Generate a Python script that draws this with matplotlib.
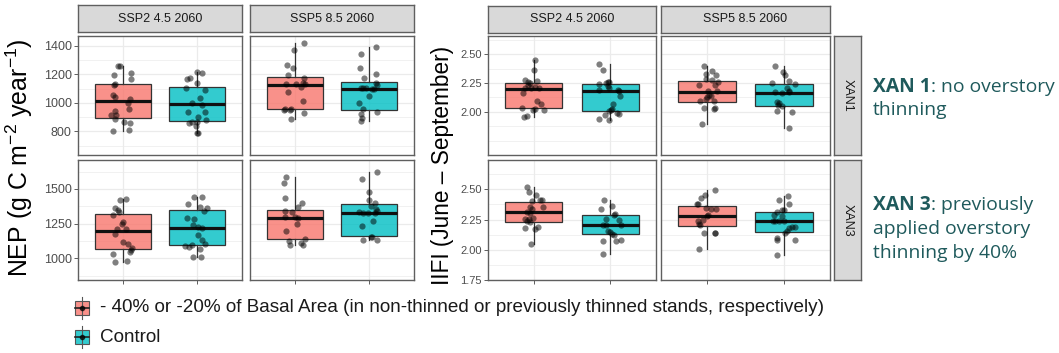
import matplotlib
matplotlib.use('Agg')
import matplotlib.pyplot as plt
import numpy as np
from matplotlib import font_manager as fm
from matplotlib.patches import Rectangle
from matplotlib.lines import Line2D

plt.rcParams['font.family'] = ['Liberation Sans', 'DejaVu Sans']
plt.rcParams['mathtext.fontset'] = 'custom'
plt.rcParams['mathtext.rm'] = 'Liberation Sans'
plt.rcParams['mathtext.it'] = 'Liberation Sans:italic'

# ---------------- data ----------------
scenarios = ['SSP2 4.5 2060', 'SSP5 8.5 2060']
sites = ['XAN1', 'XAN3']
treatments = ['- 40% or -20% of Basal Area (in non-thinned or previously thinned stands, respectively)',
              'Control']
fills = ['#F8766D', '#00BFC4']
ylab_nep = 'NEP (g C m$^{-2}$ year$^{-1}$)'
ylab_iifi = 'IIFI (June \u2013 September)'
note_xan1 = ('XAN 1', ': no overstory', 'thinning')
note_xan3 = ('XAN 3', ': previously', 'applied overstory', 'thinning by 40%')

# box stats: [whislo, q1, median, q3, whishi]
nep_x1_s2_thin_box = [801, 897, 1014, 1135, 1255]
nep_x1_s2_ctrl_box = [787, 871, 991, 1112, 1215]
nep_x1_s5_thin_box = [888, 960, 1124, 1180, 1421]
nep_x1_s5_ctrl_box = [872, 949, 1098, 1145, 1393]
nep_x3_s2_thin_box = [970, 1070, 1196, 1316, 1426]
nep_x3_s2_ctrl_box = [1009, 1096, 1216, 1345, 1445]
nep_x3_s5_thin_box = [1099, 1138, 1291, 1348, 1587]
nep_x3_s5_ctrl_box = [1131, 1160, 1326, 1389, 1623]
iifi_x1_s2_thin_box = [1.958, 2.034, 2.201, 2.254, 2.446]
iifi_x1_s2_ctrl_box = [1.932, 2.006, 2.184, 2.240, 2.418]
iifi_x1_s5_thin_box = [1.890, 2.082, 2.175, 2.266, 2.396]
iifi_x1_s5_ctrl_box = [1.859, 2.054, 2.161, 2.243, 2.396]
iifi_x3_s2_thin_box = [2.044, 2.226, 2.313, 2.397, 2.519]
iifi_x3_s2_ctrl_box = [1.962, 2.128, 2.204, 2.288, 2.408]
iifi_x3_s5_thin_box = [2.003, 2.198, 2.280, 2.361, 2.492]
iifi_x3_s5_ctrl_box = [1.954, 2.150, 2.236, 2.315, 2.448]

# individual points (values) and jitter offsets
nep_x1_s2_thin = [1255, 1255, 1192, 1206, 1168, 1129, 1124, 1056, 1042, 1028, 1002, 960, 944, 913, 913, 888, 869, 862, 813, 801]
nep_x1_s2_thin_jit = [-0.06, -0.03, -0.12, 0.11, 0.11, -0.11, -0.12, -0.13, -0.10, 0.10, 0.07, 0.09, -0.11, -0.16, -0.09, -0.10, 0.02, 0.10, 0.08, -0.13]
nep_x1_s2_ctrl = [1168, 1173, 1215, 1211, 1140, 1101, 1089, 1033, 1002, 988, 935, 935, 902, 883, 862, 869, 867, 836, 792, 787]
nep_x1_s2_ctrl_jit = [-0.135, -0.10, 0, 0.07, 0, -0.15, 0.10, 0.04, -0.07, 0.07, -0.12, 0.10, 0.01, 0.12, -0.11, -0.07, 0, -0.02, 0, 0.01]
nep_x1_s5_thin = [1421, 1370, 1264, 1241, 1194, 1173, 1129, 1133, 1140, 1129, 1110, 1077, 1012, 960, 960, 949, 949, 930, 888]
nep_x1_s5_thin_jit = [0.12, -0.01, -0.11, -0.02, -0.085, 0.12, -0.12, 0.02, 0.11, 0.135, 0.09, -0.085, 0.11, -0.135, -0.045, -0.06, -0.15, 0.12, -0.045]
nep_x1_s5_ctrl = [1393, 1344, 1241, 1204, 1173, 1136, 1126, 1103, 1103, 1103, 1094, 1098, 1047, 1000, 958, 925, 935, 895, 872]
nep_x1_s5_ctrl_jit = [0.09, -0.11, -0.12, 0.09, -0.07, 0.09, 0.10, -0.11, -0.08, -0.04, 0.03, 0.07, 0, -0.135, -0.08, -0.11, 0.11, -0.10, -0.11]
nep_x3_s2_thin = [1423, 1426, 1362, 1348, 1335, 1311, 1262, 1245, 1213, 1213, 1177, 1118, 1104, 1074, 1062, 1043, 1033, 977, 970]
nep_x3_s2_thin_jit = [-0.03, 0.04, -0.10, -0.06, -0.045, -0.135, 0.01, -0.01, -0.08, 0.05, -0.10, 0, 0.07, 0.12, 0.11, 0.10, -0.135, 0.06, -0.10]
nep_x3_s2_ctrl = [1445, 1445, 1389, 1367, 1362, 1338, 1291, 1282, 1238, 1226, 1221, 1165, 1135, 1104, 1089, 1084, 1094, 1070, 1009, 1009]
nep_x3_s2_ctrl_jit = [-0.04, 0.07, -0.12, 0.04, 0.135, 0.09, -0.14, -0.04, -0.06, 0.01, 0.07, 0.01, 0.07, 0.10, -0.16, -0.11, -0.07, 0.04, -0.06, 0.045]
nep_x3_s5_thin = [1587, 1543, 1435, 1396, 1367, 1343, 1335, 1299, 1299, 1289, 1245, 1196, 1123, 1099, 1140, 1111, 1099]
nep_x3_s5_thin_jit = [-0.12, -0.15, -0.13, 0.10, 0.04, -0.135, -0.03, -0.135, 0.01, 0.04, 0.03, -0.12, -0.08, -0.06, 0.135, 0.09, 0.11]
nep_x3_s5_ctrl = [1623, 1572, 1477, 1421, 1401, 1379, 1353, 1338, 1331, 1326, 1323, 1323, 1270, 1233, 1155, 1155, 1135, 1131]
nep_x3_s5_ctrl_jit = [0.11, -0.10, -0.01, -0.01, 0.08, 0.02, 0.09, 0.10, -0.14, -0.08, -0.02, 0.08, 0.05, -0.10, 0.02, 0.04, -0.08, 0.11]

iifi_x1_s2_thin = [2.446, 2.367, 2.277, 2.263, 2.254, 2.234, 2.271, 2.206, 2.206, 2.212, 2.206, 2.164, 2.090, 2.071, 2.037, 2.017, 2.028, 2.014, 1.966, 1.958]
iifi_x1_s2_thin_jit = [0.01, 0, -0.11, -0.075, -0.05, -0.08, 0.04, -0.12, -0.035, 0.01, 0.065, -0.14, 0.04, 0.10, -0.15, -0.01, 0.01, 0.13, -0.09, -0.13]
iifi_x1_s2_ctrl = [2.418, 2.367, 2.240, 2.249, 2.263, 2.257, 2.226, 2.192, 2.206, 2.186, 2.178, 2.133, 2.071, 2.020, 2.008, 2.017, 1.989, 1.980, 1.975, 1.935, 1.932]
iifi_x1_s2_ctrl_jit = [-0.145, -0.10, -0.145, -0.06, -0.035, -0.02, -0.035, -0.15, -0.02, 0.10, 0.11, 0.13, 0.04, 0.02, -0.02, 0.01, 0.09, 0.11, -0.07, -0.145, -0.02]
iifi_x1_s5_thin = [2.396, 2.353, 2.325, 2.319, 2.283, 2.277, 2.263, 2.229, 2.234, 2.178, 2.178, 2.150, 2.136, 2.127, 2.107, 2.093, 2.093, 2.031, 2.023, 2.031, 1.890]
iifi_x1_s5_thin_jit = [-0.045, 0.065, -0.01, 0.11, -0.02, 0.065, 0.145, -0.11, 0.10, 0.01, 0.13, 0.03, 0.05, 0, -0.02, -0.09, 0.09, 0.10, 0.09, -0.045, -0.065]
iifi_x1_s5_ctrl = [2.396, 2.342, 2.319, 2.271, 2.254, 2.243, 2.206, 2.169, 2.164, 2.184, 2.169, 2.085, 2.073, 2.059, 2.051, 2.008, 2.000, 1.859]
iifi_x1_s5_ctrl_jit = [-0.12, -0.01, 0.01, 0.065, -0.15, 0.14, 0.045, -0.12, -0.02, 0.06, 0.065, -0.09, -0.065, -0.075, -0.03, -0.09, 0.10, 0.065]
iifi_x3_s2_thin = [2.519, 2.478, 2.456, 2.402, 2.410, 2.408, 2.356, 2.356, 2.334, 2.313, 2.307, 2.258, 2.258, 2.261, 2.226, 2.234, 2.177, 2.171, 2.185, 2.044]
iifi_x3_s2_thin_jit = [-0.085, -0.065, 0.03, -0.025, 0.075, 0.105, 0.12, -0.055, -0.02, -0.09, -0.045, -0.12, -0.065, -0.01, -0.045, -0.09, -0.11, 0.01, 0.055, -0.035]
iifi_x3_s2_ctrl = [2.408, 2.361, 2.340, 2.293, 2.285, 2.253, 2.247, 2.207, 2.204, 2.204, 2.158, 2.144, 2.125, 2.128, 2.076, 2.073, 2.079, 1.962]
iifi_x3_s2_ctrl_jit = [-0.075, 0.03, -0.12, 0.06, 0.045, -0.05, 0.115, 0.14, -0.09, -0.05, -0.035, 0, 0.045, 0.02, -0.10, 0.075, 0.14, -0.09]
iifi_x3_s5_thin = [2.492, 2.451, 2.429, 2.380, 2.375, 2.348, 2.334, 2.334, 2.285, 2.280, 2.234, 2.217, 2.207, 2.139, 2.136, 2.139, 2.003, 2.247]
iifi_x3_s5_thin_jit = [0.10, -0.025, -0.08, -0.135, -0.12, -0.01, 0.05, 0.12, 0.01, 0, -0.12, -0.11, -0.09, 0.10, -0.045, 0.105, -0.10, -0.05]
iifi_x3_s5_ctrl = [2.448, 2.408, 2.375, 2.315, 2.329, 2.329, 2.285, 2.280, 2.234, 2.234, 2.234, 2.190, 2.190, 2.177, 2.158, 2.139, 2.095, 2.084, 2.084, 1.954, 2.234]
iifi_x3_s5_ctrl_jit = [0.055, -0.06, 0.065, -0.09, -0.02, 0, -0.13, -0.03, -0.12, -0.06, 0, 0.145, 0.10, 0.065, 0.035, 0.01, -0.09, -0.085, 0.145, -0.09, -0.14]

# y-axis breaks
nep_breaks = {'XAN1': [800, 1000, 1200, 1400], 'XAN3': [1000, 1250, 1500]}
nep_minor = {'XAN1': [700, 900, 1100, 1300], 'XAN3': [875, 1125, 1375, 1625]}
iifi_breaks = {'XAN1': [2.00, 2.25, 2.50], 'XAN3': [1.75, 2.00, 2.25, 2.50]}
iifi_minor = {'XAN1': [1.625, 1.75, 1.875, 2.125, 2.375, 2.625], 'XAN3': [1.875, 2.125, 2.375, 2.625]}

# ---------------- layout ----------------
W, H = 1059, 353
fig = plt.figure(figsize=(W / 100, H / 100), dpi=100)


def rect(x0, y0, x1, y1):
    return [x0 / W, 1 - y1 / H, (x1 - x0) / W, (y1 - y0) / H]


EDGE = '#5f5f5f'
GRID = '#EBEBEB'

nep_data = {
    ('XAN1', 0): [(nep_x1_s2_thin, nep_x1_s2_thin_jit, nep_x1_s2_thin_box), (nep_x1_s2_ctrl, nep_x1_s2_ctrl_jit, nep_x1_s2_ctrl_box)],
    ('XAN1', 1): [(nep_x1_s5_thin, nep_x1_s5_thin_jit, nep_x1_s5_thin_box), (nep_x1_s5_ctrl, nep_x1_s5_ctrl_jit, nep_x1_s5_ctrl_box)],
    ('XAN3', 0): [(nep_x3_s2_thin, nep_x3_s2_thin_jit, nep_x3_s2_thin_box), (nep_x3_s2_ctrl, nep_x3_s2_ctrl_jit, nep_x3_s2_ctrl_box)],
    ('XAN3', 1): [(nep_x3_s5_thin, nep_x3_s5_thin_jit, nep_x3_s5_thin_box), (nep_x3_s5_ctrl, nep_x3_s5_ctrl_jit, nep_x3_s5_ctrl_box)],
}
iifi_data = {
    ('XAN1', 0): [(iifi_x1_s2_thin, iifi_x1_s2_thin_jit, iifi_x1_s2_thin_box), (iifi_x1_s2_ctrl, iifi_x1_s2_ctrl_jit, iifi_x1_s2_ctrl_box)],
    ('XAN1', 1): [(iifi_x1_s5_thin, iifi_x1_s5_thin_jit, iifi_x1_s5_thin_box), (iifi_x1_s5_ctrl, iifi_x1_s5_ctrl_jit, iifi_x1_s5_ctrl_box)],
    ('XAN3', 0): [(iifi_x3_s2_thin, iifi_x3_s2_thin_jit, iifi_x3_s2_thin_box), (iifi_x3_s2_ctrl, iifi_x3_s2_ctrl_jit, iifi_x3_s2_ctrl_box)],
    ('XAN3', 1): [(iifi_x3_s5_thin, iifi_x3_s5_thin_jit, iifi_x3_s5_thin_box), (iifi_x3_s5_ctrl, iifi_x3_s5_ctrl_jit, iifi_x3_s5_ctrl_box)],
}

nep_ylim = {'XAN1': (635, 1468), 'XAN3': (843, 1709)}
iifi_ylim = {'XAN1': (1.655, 2.658), 'XAN3': (1.764, 2.742)}


def draw_panel(ax, items, ylim, major, minor, labels, lab_size, bottom_row):
    stats = []
    for vals, jit, b in items:
        stats.append(dict(whislo=b[0], q1=b[1], med=b[2], q3=b[3], whishi=b[4], fliers=[]))
    bp = ax.bxp(stats, positions=[1, 2], widths=0.75, patch_artist=True, showcaps=False,
                boxprops=dict(edgecolor='#333333', linewidth=0.9),
                whiskerprops=dict(color='#333333', linewidth=0.9),
                medianprops=dict(color='#111111', linewidth=2.3, solid_capstyle='butt'),
                manage_ticks=False, zorder=2)
    for patch, c in zip(bp['boxes'], fills):
        patch.set_facecolor(matplotlib.colors.to_rgba(c, 0.8))
    for i, (vals, jit, b) in enumerate(items):
        ax.scatter(np.array(jit) + (i + 1), vals, s=20, color='black', alpha=0.5,
                   linewidths=0, zorder=3)
    ax.set_xlim(0.4, 2.6)
    ax.set_ylim(*ylim)
    ax.set_xticks([1, 2])
    ax.set_xticklabels([])
    ax.set_yticks(major)
    ax.set_yticklabels(labels)
    ax.set_yticks(minor, minor=True)
    ax.set_axisbelow(True)
    ax.grid(True, which='major', color=GRID, linewidth=0.9)
    ax.grid(True, which='minor', axis='y', color=GRID, linewidth=0.5)
    ax.tick_params(axis='y', which='minor', length=0)
    ax.tick_params(axis='both', which='major', length=3, width=0.6, color='#444444',
                   labelsize=lab_size, labelcolor='#4D4D4D', pad=1.5)
    if not bottom_row:
        ax.tick_params(axis='x', which='major', length=0)
    for s in ax.spines.values():
        s.set_color(EDGE)
        s.set_linewidth(1.0)


def strip(x0, y0, x1, y1, label, rot=0):
    sa = fig.add_axes(rect(x0, y0, x1, y1))
    sa.set_facecolor('#D9D9D9')
    sa.set_xticks([])
    sa.set_yticks([])
    for s in sa.spines.values():
        s.set_color(EDGE)
        s.set_linewidth(1.0)
    sa.text(0.5, 0.5, label, ha='center', va='center', rotation=rot, fontsize=9,
            color='#1A1A1A', transform=sa.transAxes)


left_cols = [(78, 242), (250, 414)]
right_cols = [(488, 656), (661, 830)]
rows = [(36, 155), (160, 280)]

for ci, (x0, x1) in enumerate(left_cols):
    strip(x0, 5, x1, 32, scenarios[ci])
for ci, (x0, x1) in enumerate(right_cols):
    strip(x0, 6, x1, 33, scenarios[ci])
for ri, (y0, y1) in enumerate(rows):
    strip(834, y0, 861, y1, sites[ri], rot=-90)

for ri, site in enumerate(sites):
    y0, y1 = rows[ri]
    for ci in range(2):
        x0, x1 = left_cols[ci]
        ax = fig.add_axes(rect(x0, y0, x1, y1))
        labs = [str(v) for v in nep_breaks[site]] if ci == 0 else []
        draw_panel(ax, nep_data[(site, ci)], nep_ylim[site], nep_breaks[site], nep_minor[site],
                   labs, 9, ri == 1)
        if ci == 1:
            ax.tick_params(axis='y', which='major', length=0)
        x0, x1 = right_cols[ci]
        ax = fig.add_axes(rect(x0, y0, x1, y1))
        labs = ['%.2f' % v for v in iifi_breaks[site]] if ci == 0 else []
        draw_panel(ax, iifi_data[(site, ci)], iifi_ylim[site], iifi_breaks[site], iifi_minor[site],
                   labs, 8, ri == 1)
        if ci == 1:
            ax.tick_params(axis='y', which='major', length=0)

renderer = fig.canvas.get_renderer()


def fit(t, target, dim='w'):
    bb = t.get_window_extent(renderer)
    cur = bb.width if dim == 'w' else bb.height
    t.set_fontsize(t.get_fontsize() * target / cur)


# axis titles
t1 = fig.text(19 / W, 1 - 158 / H, ylab_nep, rotation=90, ha='center', va='center',
              fontsize=14, color='black')
fit(t1, 240, 'h')
t2 = fig.text(443 / W, 1 - 165 / H, ylab_iifi, rotation=90, ha='center', va='center',
              fontsize=14, color='black')
fit(t2, 240, 'h')

# notes on the right
NOTE = '#1F5A5C'
nfont = ['Open Sans', 'DejaVu Sans']
probe = fig.text(873 / W, 0.5, note_xan3[0] + note_xan3[1], fontsize=13, family=nfont)
fit(probe, 155, 'w')
nsize = probe.get_fontsize()
probe.remove()


def note_line(x, y, bold, rest):
    tb = fig.text(x / W, 1 - y / H, bold, fontsize=nsize, family=nfont, fontweight='bold',
                  color=NOTE, va='center', ha='left')
    wb = tb.get_window_extent(renderer).width
    fig.text((x + wb) / W, 1 - y / H, rest, fontsize=nsize, family=nfont, color=NOTE,
             va='center', ha='left')


note_line(873, 87, note_xan1[0], note_xan1[1])
fig.text(873 / W, 1 - 110 / H, note_xan1[2], fontsize=nsize, family=nfont, color=NOTE, va='center')
note_line(873, 205, note_xan3[0], note_xan3[1])
fig.text(873 / W, 1 - 229 / H, note_xan3[2], fontsize=nsize, family=nfont, color=NOTE, va='center')
fig.text(873 / W, 1 - 253 / H, note_xan3[3], fontsize=nsize, family=nfont, color=NOTE, va='center')

# legend
avail = {f.name for f in fm.fontManager.ttflist}
lfam = ['Liberation Sans Narrow', 'DejaVu Sans'] if 'Liberation Sans Narrow' in avail else ['Liberation Sans', 'DejaVu Sans']
ov = fig.add_axes([0, 0, 1, 1], facecolor='none')
ov.set_xlim(0, W)
ov.set_ylim(H, 0)
ov.axis('off')
lsize = 12
for k, (yc, c) in enumerate([(308, fills[0]), (337, fills[1])]):
    ov.add_line(Line2D([82, 82], [yc - 11, yc + 11], color='#555555', lw=0.8))
    ov.add_patch(Rectangle((75, yc - 7), 14, 14, facecolor=matplotlib.colors.to_rgba(c, 0.8),
                           edgecolor='#555555', lw=0.8))
    ov.add_line(Line2D([75, 89], [yc, yc], color='#222222', lw=1.2))
    ov.plot([82], [yc], 'o', color='black', ms=3, alpha=0.7)
    lt = ov.text(100, yc, treatments[k], ha='left', va='center', fontsize=lsize, color='#1A1A1A',
                 family=lfam)
    if k == 0:
        fit(lt, 728, 'w')
        lsize = lt.get_fontsize()

fig.savefig('out.png', dpi=100, facecolor='white')
